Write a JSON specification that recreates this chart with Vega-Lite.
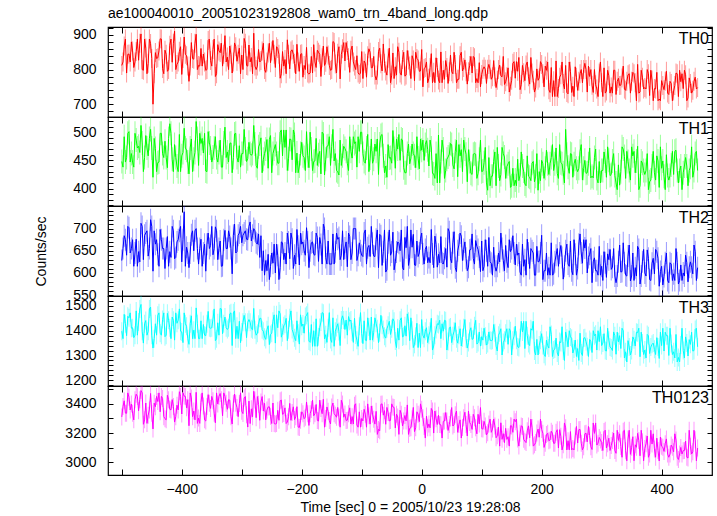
{
"$schema": "https://vega.github.io/schema/vega-lite/v6.json",
"padding": {"left": 33, "top": 5, "right": 5, "bottom": 0},
"background": "white",
"bounds": "flush",
"spacing": 0,
"config": {
 "font": "Liberation Sans",
 "view": {"stroke": "black", "strokeWidth": 1.2},
 "axis": {"labelFont": "Liberation Sans", "titleFont": "Liberation Sans", "labelFontSize": 14, "titleFontSize": 14, "labelColor": "black", "titleColor": "black", "titleFontWeight": "normal", "grid": false, "domain": false, "tickColor": "black", "tickSize": -5, "labelPadding": 17, "format": "d"}
},
"data": {"values": [
{"t":-500,"a":812,"b":448,"c":628,"d":1398,"e":3310},
{"t":-496,"a":868,"b":492,"c":684,"d":1466,"e":3420},
{"t":-492,"a":790,"b":455,"c":640,"d":1380,"e":3335},
{"t":-488,"a":845,"b":501,"c":702,"d":1452,"e":3445},
{"t":-484,"a":880,"b":462,"c":655,"d":1410,"e":3398},
{"t":-480,"a":806,"b":438,"c":615,"d":1372,"e":3290},
{"t":-476,"a":852,"b":486,"c":676,"d":1480,"e":3465},
{"t":-472,"a":827,"b":475,"c":648,"d":1435,"e":3352},
{"t":-468,"a":903,"b":512,"c":712,"d":1506,"e":3490},
{"t":-464,"a":798,"b":430,"c":630,"d":1350,"e":3260},
{"t":-460,"a":862,"b":494,"c":690,"d":1441,"e":3405},
{"t":-456,"a":818,"b":458,"c":638,"d":1398,"e":3322},
{"t":-452,"a":875,"b":505,"c":720,"d":1495,"e":3470},
{"t":-448,"a":700,"b":420,"c":604,"d":1330,"e":3228},
{"t":-444,"a":849,"b":471,"c":665,"d":1428,"e":3380},
{"t":-440,"a":834,"b":446,"c":642,"d":1462,"e":3415},
{"t":-436,"a":889,"b":498,"c":698,"d":1390,"e":3345},
{"t":-432,"a":803,"b":462,"c":655,"d":1445,"e":3436},
{"t":-428,"a":856,"b":484,"c":610,"d":1376,"e":3298},
{"t":-424,"a":795,"b":437,"c":682,"d":1470,"e":3458},
{"t":-420,"a":870,"b":515,"c":648,"d":1412,"e":3362},
{"t":-416,"a":821,"b":452,"c":705,"d":1455,"e":3428},
{"t":-412,"a":911,"b":478,"c":632,"d":1362,"e":3275},
{"t":-408,"a":815,"b":440,"c":670,"d":1430,"e":3390},
{"t":-404,"a":853,"b":496,"c":694,"d":1488,"e":3482},
{"t":-400,"a":786,"b":458,"c":625,"d":1395,"e":3330},
{"t":-396,"a":894,"b":507,"c":738,"d":1472,"e":3452},
{"t":-392,"a":840,"b":468,"c":658,"d":1418,"e":3372},
{"t":-388,"a":766,"b":426,"c":612,"d":1345,"e":3250},
{"t":-384,"a":878,"b":488,"c":686,"d":1460,"e":3440},
{"t":-380,"a":830,"b":452,"c":650,"d":1402,"e":3350},
{"t":-376,"a":902,"b":519,"c":700,"d":1492,"e":3478},
{"t":-372,"a":812,"b":441,"c":620,"d":1368,"e":3302},
{"t":-368,"a":861,"b":480,"c":676,"d":1440,"e":3410},
{"t":-364,"a":845,"b":463,"c":645,"d":1425,"e":3385},
{"t":-360,"a":798,"b":431,"c":604,"d":1380,"e":3282},
{"t":-356,"a":884,"b":501,"c":690,"d":1478,"e":3462},
{"t":-352,"a":826,"b":472,"c":662,"d":1410,"e":3368},
{"t":-348,"a":858,"b":456,"c":641,"d":1446,"e":3420},
{"t":-344,"a":780,"b":492,"c":704,"d":1360,"e":3270},
{"t":-340,"a":872,"b":447,"c":630,"d":1432,"e":3398},
{"t":-336,"a":849,"b":486,"c":672,"d":1490,"e":3470},
{"t":-332,"a":810,"b":438,"c":616,"d":1388,"e":3318},
{"t":-328,"a":898,"b":509,"c":696,"d":1455,"e":3450},
{"t":-324,"a":836,"b":465,"c":655,"d":1405,"e":3362},
{"t":-320,"a":868,"b":480,"c":682,"d":1468,"e":3425},
{"t":-316,"a":790,"b":428,"c":598,"d":1340,"e":3262},
{"t":-312,"a":877,"b":497,"c":710,"d":1480,"e":3466},
{"t":-308,"a":824,"b":455,"c":648,"d":1418,"e":3375},
{"t":-304,"a":862,"b":476,"c":690,"d":1438,"e":3402},
{"t":-300,"a":842,"b":462,"c":668,"d":1395,"e":3348},
{"t":-296,"a":890,"b":505,"c":690,"d":1462,"e":3440},
{"t":-292,"a":812,"b":448,"c":676,"d":1372,"e":3325},
{"t":-288,"a":871,"b":482,"c":705,"d":1445,"e":3418},
{"t":-284,"a":835,"b":459,"c":672,"d":1408,"e":3365},
{"t":-280,"a":905,"b":512,"c":700,"d":1490,"e":3485},
{"t":-276,"a":800,"b":441,"c":668,"d":1382,"e":3305},
{"t":-272,"a":858,"b":474,"c":688,"d":1426,"e":3396},
{"t":-268,"a":826,"b":490,"c":684,"d":1450,"e":3412},
{"t":-264,"a":876,"b":452,"c":650,"d":1398,"e":3350},
{"t":-260,"a":792,"b":470,"c":628,"d":1365,"e":3290},
{"t":-256,"a":848,"b":436,"c":642,"d":1420,"e":3378},
{"t":-252,"a":820,"b":494,"c":615,"d":1385,"e":3315},
{"t":-248,"a":884,"b":462,"c":622,"d":1438,"e":3405},
{"t":-244,"a":806,"b":478,"c":600,"d":1350,"e":3262},
{"t":-240,"a":861,"b":445,"c":640,"d":1412,"e":3355},
{"t":-236,"a":775,"b":500,"c":612,"d":1468,"e":3420},
{"t":-232,"a":852,"b":458,"c":668,"d":1392,"e":3328},
{"t":-228,"a":829,"b":473,"c":645,"d":1426,"e":3372},
{"t":-224,"a":886,"b":432,"c":690,"d":1360,"e":3275},
{"t":-220,"a":802,"b":488,"c":632,"d":1452,"e":3402},
{"t":-216,"a":857,"b":451,"c":676,"d":1405,"e":3340},
{"t":-212,"a":818,"b":496,"c":640,"d":1372,"e":3292},
{"t":-208,"a":873,"b":463,"c":698,"d":1440,"e":3380},
{"t":-204,"a":795,"b":440,"c":618,"d":1346,"e":3238},
{"t":-200,"a":846,"b":482,"c":665,"d":1418,"e":3345},
{"t":-196,"a":812,"b":455,"c":650,"d":1390,"e":3298},
{"t":-192,"a":864,"b":501,"c":702,"d":1462,"e":3412},
{"t":-188,"a":787,"b":437,"c":612,"d":1358,"e":3252},
{"t":-184,"a":838,"b":470,"c":668,"d":1425,"e":3360},
{"t":-180,"a":872,"b":448,"c":642,"d":1400,"e":3318},
{"t":-176,"a":806,"b":489,"c":690,"d":1448,"e":3395},
{"t":-172,"a":850,"b":460,"c":626,"d":1376,"e":3282},
{"t":-168,"a":780,"b":426,"c":664,"d":1435,"e":3368},
{"t":-164,"a":868,"b":497,"c":710,"d":1470,"e":3430},
{"t":-160,"a":821,"b":452,"c":635,"d":1384,"e":3300},
{"t":-156,"a":842,"b":476,"c":672,"d":1412,"e":3348},
{"t":-152,"a":798,"b":441,"c":620,"d":1365,"e":3262},
{"t":-148,"a":881,"b":505,"c":688,"d":1452,"e":3405},
{"t":-144,"a":816,"b":462,"c":648,"d":1398,"e":3322},
{"t":-140,"a":847,"b":430,"c":676,"d":1428,"e":3375},
{"t":-136,"a":773,"b":486,"c":630,"d":1340,"e":3240},
{"t":-132,"a":860,"b":458,"c":695,"d":1460,"e":3398},
{"t":-128,"a":825,"b":471,"c":656,"d":1405,"e":3330},
{"t":-124,"a":855,"b":445,"c":614,"d":1382,"e":3288},
{"t":-120,"a":792,"b":492,"c":682,"d":1438,"e":3372},
{"t":-116,"a":868,"b":454,"c":645,"d":1395,"e":3312},
{"t":-112,"a":810,"b":480,"c":700,"d":1450,"e":3390},
{"t":-108,"a":840,"b":438,"c":628,"d":1362,"e":3255},
{"t":-104,"a":786,"b":466,"c":668,"d":1418,"e":3345},
{"t":-100,"a":852,"b":500,"c":640,"d":1388,"e":3300},
{"t":-96,"a":825,"b":448,"c":690,"d":1440,"e":3362},
{"t":-92,"a":778,"b":472,"c":620,"d":1360,"e":3240},
{"t":-88,"a":860,"b":430,"c":662,"d":1415,"e":3318},
{"t":-84,"a":805,"b":488,"c":705,"d":1455,"e":3385},
{"t":-80,"a":838,"b":452,"c":638,"d":1392,"e":3295},
{"t":-76,"a":770,"b":466,"c":676,"d":1430,"e":3348},
{"t":-72,"a":852,"b":425,"c":612,"d":1352,"e":3225},
{"t":-68,"a":817,"b":494,"c":684,"d":1462,"e":3396},
{"t":-64,"a":874,"b":458,"c":648,"d":1405,"e":3322},
{"t":-60,"a":796,"b":440,"c":602,"d":1370,"e":3260},
{"t":-56,"a":833,"b":478,"c":668,"d":1422,"e":3340},
{"t":-52,"a":762,"b":455,"c":640,"d":1385,"e":3286},
{"t":-48,"a":848,"b":503,"c":692,"d":1448,"e":3378},
{"t":-44,"a":808,"b":436,"c":625,"d":1358,"e":3235},
{"t":-40,"a":866,"b":470,"c":670,"d":1410,"e":3310},
{"t":-36,"a":790,"b":450,"c":650,"d":1442,"e":3355},
{"t":-32,"a":829,"b":486,"c":612,"d":1375,"e":3248},
{"t":-28,"a":781,"b":428,"c":680,"d":1420,"e":3320},
{"t":-24,"a":855,"b":462,"c":705,"d":1468,"e":3392},
{"t":-20,"a":810,"b":444,"c":634,"d":1360,"e":3232},
{"t":-16,"a":840,"b":479,"c":658,"d":1402,"e":3298},
{"t":-12,"a":768,"b":458,"c":618,"d":1345,"e":3210},
{"t":-8,"a":832,"b":492,"c":672,"d":1430,"e":3345},
{"t":-4,"a":795,"b":435,"c":645,"d":1390,"e":3278},
{"t":0,"a":858,"b":468,"c":690,"d":1445,"e":3362},
{"t":4,"a":803,"b":450,"c":620,"d":1370,"e":3245},
{"t":8,"a":822,"b":485,"c":660,"d":1412,"e":3316},
{"t":12,"a":775,"b":440,"c":635,"d":1382,"e":3262},
{"t":16,"a":846,"b":472,"c":698,"d":1450,"e":3368},
{"t":20,"a":792,"b":426,"c":612,"d":1338,"e":3200},
{"t":24,"a":834,"b":462,"c":664,"d":1405,"e":3298},
{"t":28,"a":770,"b":495,"c":642,"d":1425,"e":3322},
{"t":32,"a":851,"b":448,"c":682,"d":1368,"e":3256},
{"t":36,"a":798,"b":470,"c":620,"d":1398,"e":3280},
{"t":40,"a":826,"b":432,"c":655,"d":1440,"e":3340},
{"t":44,"a":760,"b":456,"c":700,"d":1356,"e":3218},
{"t":48,"a":842,"b":480,"c":632,"d":1415,"e":3302},
{"t":52,"a":788,"b":442,"c":668,"d":1380,"e":3248},
{"t":56,"a":815,"b":466,"c":612,"d":1432,"e":3325},
{"t":60,"a":772,"b":421,"c":650,"d":1350,"e":3205},
{"t":64,"a":840,"b":458,"c":690,"d":1408,"e":3290},
{"t":68,"a":796,"b":430,"c":628,"d":1372,"e":3238},
{"t":72,"a":828,"b":470,"c":670,"d":1445,"e":3342},
{"t":76,"a":758,"b":412,"c":605,"d":1330,"e":3180},
{"t":80,"a":812,"b":448,"c":652,"d":1398,"e":3272},
{"t":84,"a":790,"b":425,"c":688,"d":1365,"e":3225},
{"t":88,"a":834,"b":462,"c":620,"d":1420,"e":3305},
{"t":92,"a":774,"b":418,"c":660,"d":1346,"e":3195},
{"t":96,"a":820,"b":452,"c":636,"d":1395,"e":3262},
{"t":100,"a":786,"b":430,"c":672,"d":1376,"e":3230},
{"t":104,"a":808,"b":446,"c":615,"d":1410,"e":3280},
{"t":108,"a":760,"b":410,"c":650,"d":1342,"e":3188},
{"t":112,"a":815,"b":455,"c":680,"d":1395,"e":3262},
{"t":116,"a":772,"b":422,"c":622,"d":1360,"e":3205},
{"t":120,"a":826,"b":448,"c":658,"d":1425,"e":3296},
{"t":124,"a":748,"b":405,"c":604,"d":1338,"e":3168},
{"t":128,"a":800,"b":440,"c":645,"d":1382,"e":3240},
{"t":132,"a":782,"b":425,"c":690,"d":1408,"e":3270},
{"t":136,"a":838,"b":462,"c":628,"d":1352,"e":3196},
{"t":140,"a":765,"b":418,"c":662,"d":1390,"e":3232},
{"t":144,"a":805,"b":444,"c":612,"d":1345,"e":3175},
{"t":148,"a":752,"b":402,"c":648,"d":1400,"e":3250},
{"t":152,"a":818,"b":436,"c":684,"d":1362,"e":3205},
{"t":156,"a":775,"b":415,"c":618,"d":1418,"e":3278},
{"t":160,"a":795,"b":452,"c":640,"d":1335,"e":3160},
{"t":164,"a":742,"b":424,"c":602,"d":1372,"e":3198},
{"t":168,"a":812,"b":440,"c":665,"d":1395,"e":3245},
{"t":172,"a":768,"b":408,"c":630,"d":1328,"e":3145},
{"t":176,"a":822,"b":458,"c":676,"d":1380,"e":3215},
{"t":180,"a":758,"b":420,"c":610,"d":1340,"e":3168},
{"t":184,"a":790,"b":445,"c":650,"d":1402,"e":3238},
{"t":188,"a":735,"b":412,"c":595,"d":1318,"e":3120},
{"t":192,"a":802,"b":462,"c":660,"d":1365,"e":3200},
{"t":196,"a":776,"b":430,"c":626,"d":1342,"e":3172},
{"t":200,"a":815,"b":450,"c":685,"d":1388,"e":3225},
{"t":204,"a":750,"b":418,"c":605,"d":1305,"e":3102},
{"t":208,"a":798,"b":468,"c":645,"d":1362,"e":3190},
{"t":212,"a":742,"b":425,"c":612,"d":1330,"e":3148},
{"t":216,"a":806,"b":455,"c":668,"d":1385,"e":3212},
{"t":220,"a":768,"b":432,"c":598,"d":1322,"e":3130},
{"t":224,"a":825,"b":472,"c":640,"d":1370,"e":3205},
{"t":228,"a":745,"b":418,"c":615,"d":1298,"e":3098},
{"t":232,"a":785,"b":446,"c":662,"d":1352,"e":3178},
{"t":236,"a":760,"b":428,"c":586,"d":1318,"e":3120},
{"t":240,"a":812,"b":505,"c":650,"d":1395,"e":3236},
{"t":244,"a":730,"b":438,"c":620,"d":1335,"e":3148},
{"t":248,"a":795,"b":462,"c":672,"d":1375,"e":3210},
{"t":252,"a":752,"b":420,"c":596,"d":1310,"e":3095},
{"t":256,"a":808,"b":452,"c":642,"d":1362,"e":3180},
{"t":260,"a":740,"b":430,"c":610,"d":1328,"e":3132},
{"t":264,"a":788,"b":466,"c":688,"d":1390,"e":3225},
{"t":268,"a":762,"b":415,"c":622,"d":1300,"e":3085},
{"t":272,"a":818,"b":450,"c":656,"d":1372,"e":3195},
{"t":276,"a":735,"b":428,"c":600,"d":1335,"e":3140},
{"t":280,"a":780,"b":472,"c":642,"d":1365,"e":3182},
{"t":284,"a":755,"b":422,"c":578,"d":1312,"e":3088},
{"t":288,"a":800,"b":455,"c":634,"d":1380,"e":3198},
{"t":292,"a":744,"b":418,"c":605,"d":1322,"e":3118},
{"t":296,"a":790,"b":448,"c":660,"d":1356,"e":3170},
{"t":300,"a":762,"b":432,"c":615,"d":1340,"e":3136},
{"t":304,"a":805,"b":465,"c":648,"d":1388,"e":3210},
{"t":308,"a":738,"b":420,"c":590,"d":1318,"e":3098},
{"t":312,"a":782,"b":450,"c":630,"d":1362,"e":3165},
{"t":316,"a":750,"b":425,"c":608,"d":1330,"e":3115},
{"t":320,"a":798,"b":462,"c":655,"d":1395,"e":3200},
{"t":324,"a":728,"b":410,"c":578,"d":1305,"e":3062},
{"t":328,"a":775,"b":442,"c":625,"d":1355,"e":3150},
{"t":332,"a":755,"b":430,"c":602,"d":1328,"e":3108},
{"t":336,"a":810,"b":470,"c":668,"d":1400,"e":3212},
{"t":340,"a":740,"b":418,"c":595,"d":1315,"e":3080},
{"t":344,"a":785,"b":448,"c":638,"d":1360,"e":3160},
{"t":348,"a":732,"b":415,"c":582,"d":1302,"e":3055},
{"t":352,"a":792,"b":458,"c":645,"d":1375,"e":3175},
{"t":356,"a":762,"b":428,"c":612,"d":1338,"e":3120},
{"t":360,"a":815,"b":475,"c":660,"d":1392,"e":3198},
{"t":364,"a":735,"b":405,"c":575,"d":1295,"e":3045},
{"t":368,"a":778,"b":445,"c":625,"d":1350,"e":3140},
{"t":372,"a":748,"b":425,"c":600,"d":1322,"e":3095},
{"t":376,"a":800,"b":462,"c":652,"d":1385,"e":3180},
{"t":380,"a":725,"b":412,"c":585,"d":1308,"e":3058},
{"t":384,"a":770,"b":440,"c":622,"d":1345,"e":3125},
{"t":388,"a":745,"b":428,"c":598,"d":1325,"e":3092},
{"t":392,"a":792,"b":458,"c":648,"d":1372,"e":3165},
{"t":396,"a":715,"b":402,"c":570,"d":1288,"e":3010},
{"t":400,"a":768,"b":436,"c":615,"d":1340,"e":3110},
{"t":404,"a":742,"b":422,"c":592,"d":1318,"e":3075},
{"t":408,"a":795,"b":460,"c":645,"d":1380,"e":3160},
{"t":412,"a":728,"b":415,"c":578,"d":1300,"e":3035},
{"t":416,"a":760,"b":442,"c":620,"d":1348,"e":3118},
{"t":420,"a":738,"b":425,"c":598,"d":1315,"e":3072},
{"t":424,"a":790,"b":468,"c":655,"d":1385,"e":3152},
{"t":428,"a":722,"b":410,"c":575,"d":1292,"e":3020},
{"t":432,"a":765,"b":440,"c":618,"d":1342,"e":3102},
{"t":436,"a":745,"b":428,"c":600,"d":1320,"e":3080},
{"t":440,"a":785,"b":455,"c":640,"d":1375,"e":3145},
{"t":444,"a":718,"b":405,"c":580,"d":1298,"e":3030},
{"t":448,"a":760,"b":438,"c":625,"d":1345,"e":3110},
{"t":452,"a":740,"b":420,"c":598,"d":1318,"e":3072},
{"t":456,"a":778,"b":462,"c":648,"d":1405,"e":3155},
{"t":460,"a":748,"b":432,"c":612,"d":1335,"e":3098},
{"t":-498,"a":822,"b":438,"c":655,"d":1368,"e":3382},
{"t":-494,"a":888,"b":447,"c":675,"d":1428,"e":3336},
{"t":-490,"a":844,"b":498,"c":705,"d":1458,"e":3474},
{"t":-486,"a":822,"b":447,"c":645,"d":1472,"e":3358},
{"t":-482,"a":854,"b":447,"c":675,"d":1412,"e":3336},
{"t":-478,"a":822,"b":498,"c":645,"d":1382,"e":3428},
{"t":-474,"a":888,"b":472,"c":615,"d":1382,"e":3450},
{"t":-470,"a":876,"b":464,"c":625,"d":1488,"e":3428},
{"t":-466,"a":800,"b":481,"c":705,"d":1398,"e":3474},
{"t":-462,"a":888,"b":455,"c":685,"d":1428,"e":3290},
{"t":-458,"a":788,"b":472,"c":695,"d":1382,"e":3266},
{"t":-454,"a":888,"b":489,"c":655,"d":1488,"e":3358},
{"t":-450,"a":832,"b":472,"c":705,"d":1382,"e":3336},
{"t":-446,"a":788,"b":489,"c":695,"d":1368,"e":3404},
{"t":-442,"a":832,"b":430,"c":675,"d":1382,"e":3450},
{"t":-438,"a":854,"b":447,"c":615,"d":1472,"e":3474},
{"t":-434,"a":888,"b":498,"c":675,"d":1382,"e":3450},
{"t":-430,"a":788,"b":455,"c":655,"d":1472,"e":3312},
{"t":-426,"a":844,"b":455,"c":655,"d":1382,"e":3290},
{"t":-422,"a":800,"b":489,"c":615,"d":1442,"e":3428},
{"t":-418,"a":888,"b":498,"c":635,"d":1368,"e":3358},
{"t":-414,"a":876,"b":430,"c":695,"d":1442,"e":3382},
{"t":-410,"a":800,"b":455,"c":635,"d":1472,"e":3312},
{"t":-406,"a":822,"b":430,"c":675,"d":1442,"e":3358},
{"t":-402,"a":866,"b":430,"c":705,"d":1398,"e":3450},
{"t":-398,"a":832,"b":464,"c":675,"d":1352,"e":3474},
{"t":-394,"a":844,"b":472,"c":615,"d":1428,"e":3450},
{"t":-390,"a":810,"b":447,"c":645,"d":1368,"e":3428},
{"t":-386,"a":810,"b":472,"c":645,"d":1428,"e":3474},
{"t":-382,"a":832,"b":430,"c":695,"d":1368,"e":3312},
{"t":-378,"a":876,"b":464,"c":695,"d":1368,"e":3290},
{"t":-374,"a":800,"b":489,"c":655,"d":1428,"e":3266},
{"t":-370,"a":810,"b":498,"c":655,"d":1368,"e":3266},
{"t":-366,"a":810,"b":489,"c":615,"d":1368,"e":3474},
{"t":-362,"a":822,"b":498,"c":665,"d":1382,"e":3290},
{"t":-358,"a":800,"b":430,"c":665,"d":1428,"e":3382},
{"t":-354,"a":888,"b":481,"c":655,"d":1412,"e":3404},
{"t":-350,"a":810,"b":447,"c":705,"d":1412,"e":3450},
{"t":-346,"a":888,"b":472,"c":655,"d":1488,"e":3336},
{"t":-342,"a":788,"b":455,"c":695,"d":1368,"e":3474},
{"t":-338,"a":854,"b":464,"c":655,"d":1382,"e":3450},
{"t":-334,"a":876,"b":438,"c":615,"d":1488,"e":3428},
{"t":-330,"a":844,"b":481,"c":675,"d":1428,"e":3474},
{"t":-326,"a":822,"b":455,"c":655,"d":1412,"e":3404},
{"t":-322,"a":800,"b":447,"c":695,"d":1412,"e":3428},
{"t":-318,"a":844,"b":481,"c":655,"d":1472,"e":3312},
{"t":-314,"a":822,"b":455,"c":685,"d":1472,"e":3404},
{"t":-310,"a":866,"b":498,"c":645,"d":1368,"e":3404},
{"t":-306,"a":844,"b":447,"c":685,"d":1368,"e":3312},
{"t":-302,"a":788,"b":438,"c":705,"d":1352,"e":3474},
{"t":-298,"a":800,"b":462,"c":685,"d":1434,"e":3333},
{"t":-294,"a":876,"b":470,"c":695,"d":1434,"e":3449},
{"t":-290,"a":810,"b":453,"c":675,"d":1434,"e":3241},
{"t":-286,"a":822,"b":462,"c":715,"d":1434,"e":3265},
{"t":-282,"a":788,"b":462,"c":685,"d":1404,"e":3311},
{"t":-278,"a":810,"b":479,"c":695,"d":1404,"e":3425},
{"t":-274,"a":810,"b":436,"c":665,"d":1390,"e":3449},
{"t":-270,"a":822,"b":479,"c":635,"d":1450,"e":3287},
{"t":-266,"a":854,"b":428,"c":605,"d":1404,"e":3449},
{"t":-262,"a":800,"b":462,"c":595,"d":1374,"e":3403},
{"t":-258,"a":822,"b":487,"c":605,"d":1404,"e":3357},
{"t":-254,"a":876,"b":487,"c":585,"d":1344,"e":3379},
{"t":-250,"a":854,"b":428,"c":645,"d":1390,"e":3265},
{"t":-246,"a":844,"b":470,"c":665,"d":1464,"e":3265},
{"t":-242,"a":866,"b":462,"c":665,"d":1464,"e":3265},
{"t":-238,"a":844,"b":445,"c":585,"d":1480,"e":3287},
{"t":-234,"a":788,"b":504,"c":670,"d":1374,"e":3425},
{"t":-230,"a":810,"b":504,"c":630,"d":1420,"e":3333},
{"t":-226,"a":788,"b":504,"c":620,"d":1450,"e":3265},
{"t":-222,"a":844,"b":453,"c":670,"d":1404,"e":3311},
{"t":-218,"a":854,"b":487,"c":690,"d":1480,"e":3287},
{"t":-214,"a":844,"b":504,"c":610,"d":1390,"e":3379},
{"t":-210,"a":788,"b":428,"c":620,"d":1360,"e":3311},
{"t":-206,"a":822,"b":428,"c":660,"d":1390,"e":3241},
{"t":-202,"a":844,"b":462,"c":690,"d":1464,"e":3287},
{"t":-198,"a":778,"b":458,"c":670,"d":1427,"e":3332},
{"t":-194,"a":800,"b":432,"c":640,"d":1457,"e":3308},
{"t":-190,"a":790,"b":458,"c":670,"d":1473,"e":3332},
{"t":-186,"a":790,"b":500,"c":650,"d":1353,"e":3332},
{"t":-182,"a":790,"b":432,"c":670,"d":1337,"e":3424},
{"t":-178,"a":822,"b":449,"c":640,"d":1337,"e":3332},
{"t":-174,"a":856,"b":441,"c":680,"d":1337,"e":3286},
{"t":-170,"a":844,"b":466,"c":680,"d":1413,"e":3424},
{"t":-166,"a":834,"b":500,"c":620,"d":1473,"e":3332},
{"t":-162,"a":812,"b":424,"c":700,"d":1367,"e":3240},
{"t":-158,"a":866,"b":475,"c":620,"d":1353,"e":3378},
{"t":-154,"a":812,"b":492,"c":620,"d":1473,"e":3286},
{"t":-150,"a":800,"b":475,"c":620,"d":1353,"e":3378},
{"t":-146,"a":878,"b":449,"c":620,"d":1337,"e":3332},
{"t":-142,"a":790,"b":432,"c":690,"d":1413,"e":3308},
{"t":-138,"a":866,"b":424,"c":680,"d":1397,"e":3308},
{"t":-134,"a":844,"b":441,"c":640,"d":1443,"e":3424},
{"t":-130,"a":878,"b":475,"c":630,"d":1443,"e":3308},
{"t":-126,"a":878,"b":466,"c":670,"d":1443,"e":3286},
{"t":-122,"a":834,"b":432,"c":690,"d":1457,"e":3332},
{"t":-118,"a":856,"b":466,"c":630,"d":1443,"e":3262},
{"t":-114,"a":822,"b":492,"c":700,"d":1353,"e":3262},
{"t":-110,"a":800,"b":483,"c":700,"d":1383,"e":3400},
{"t":-106,"a":790,"b":492,"c":640,"d":1337,"e":3240},
{"t":-102,"a":790,"b":500,"c":650,"d":1473,"e":3240},
{"t":-98,"a":774,"b":462,"c":637,"d":1348,"e":3283},
{"t":-94,"a":818,"b":445,"c":697,"d":1362,"e":3329},
{"t":-90,"a":840,"b":496,"c":657,"d":1452,"e":3399},
{"t":-86,"a":850,"b":454,"c":637,"d":1362,"e":3261},
{"t":-82,"a":806,"b":445,"c":667,"d":1362,"e":3329},
{"t":-78,"a":784,"b":479,"c":637,"d":1452,"e":3261},
{"t":-74,"a":784,"b":488,"c":697,"d":1408,"e":3191},
{"t":-70,"a":862,"b":479,"c":687,"d":1392,"e":3215},
{"t":-66,"a":796,"b":496,"c":617,"d":1422,"e":3399},
{"t":-62,"a":818,"b":428,"c":697,"d":1378,"e":3353},
{"t":-58,"a":784,"b":420,"c":607,"d":1408,"e":3375},
{"t":-54,"a":862,"b":454,"c":697,"d":1438,"e":3283},
{"t":-50,"a":784,"b":445,"c":647,"d":1408,"e":3399},
{"t":-46,"a":774,"b":471,"c":607,"d":1438,"e":3375},
{"t":-42,"a":784,"b":488,"c":647,"d":1332,"e":3329},
{"t":-38,"a":850,"b":496,"c":667,"d":1362,"e":3191},
{"t":-34,"a":784,"b":488,"c":697,"d":1452,"e":3329},
{"t":-30,"a":850,"b":437,"c":607,"d":1378,"e":3283},
{"t":-26,"a":784,"b":428,"c":657,"d":1378,"e":3283},
{"t":-22,"a":828,"b":479,"c":617,"d":1438,"e":3191},
{"t":-18,"a":774,"b":454,"c":697,"d":1452,"e":3237},
{"t":-14,"a":828,"b":462,"c":687,"d":1332,"e":3375},
{"t":-10,"a":850,"b":437,"c":617,"d":1378,"e":3237},
{"t":-6,"a":828,"b":454,"c":637,"d":1332,"e":3329},
{"t":-2,"a":796,"b":488,"c":677,"d":1332,"e":3399},
{"t":2,"a":750,"b":486,"c":643,"d":1382,"e":3304},
{"t":6,"a":806,"b":478,"c":653,"d":1398,"e":3166},
{"t":10,"a":762,"b":469,"c":623,"d":1352,"e":3236},
{"t":14,"a":806,"b":486,"c":623,"d":1398,"e":3236},
{"t":18,"a":762,"b":427,"c":643,"d":1322,"e":3350},
{"t":22,"a":762,"b":418,"c":683,"d":1382,"e":3350},
{"t":26,"a":806,"b":410,"c":613,"d":1428,"e":3258},
{"t":30,"a":762,"b":410,"c":623,"d":1442,"e":3258},
{"t":34,"a":762,"b":486,"c":623,"d":1428,"e":3166},
{"t":38,"a":772,"b":418,"c":633,"d":1442,"e":3282},
{"t":42,"a":806,"b":452,"c":613,"d":1322,"e":3282},
{"t":46,"a":794,"b":461,"c":693,"d":1412,"e":3258},
{"t":50,"a":794,"b":478,"c":623,"d":1352,"e":3374},
{"t":54,"a":850,"b":435,"c":693,"d":1398,"e":3258},
{"t":58,"a":762,"b":486,"c":603,"d":1368,"e":3350},
{"t":62,"a":772,"b":478,"c":663,"d":1382,"e":3258},
{"t":66,"a":850,"b":469,"c":683,"d":1338,"e":3166},
{"t":70,"a":806,"b":486,"c":653,"d":1412,"e":3304},
{"t":74,"a":794,"b":461,"c":633,"d":1368,"e":3258},
{"t":78,"a":794,"b":469,"c":613,"d":1352,"e":3350},
{"t":82,"a":838,"b":427,"c":653,"d":1412,"e":3258},
{"t":86,"a":838,"b":461,"c":633,"d":1368,"e":3328},
{"t":90,"a":762,"b":461,"c":673,"d":1442,"e":3236},
{"t":94,"a":762,"b":427,"c":653,"d":1352,"e":3328},
{"t":98,"a":750,"b":486,"c":603,"d":1338,"e":3374},
{"t":102,"a":801,"b":431,"c":605,"d":1362,"e":3227},
{"t":106,"a":801,"b":473,"c":675,"d":1378,"e":3249},
{"t":110,"a":801,"b":397,"c":615,"d":1348,"e":3203},
{"t":114,"a":801,"b":405,"c":625,"d":1362,"e":3295},
{"t":118,"a":779,"b":422,"c":595,"d":1362,"e":3227},
{"t":122,"a":779,"b":465,"c":615,"d":1392,"e":3249},
{"t":126,"a":769,"b":473,"c":615,"d":1318,"e":3181},
{"t":130,"a":813,"b":414,"c":625,"d":1392,"e":3111},
{"t":134,"a":779,"b":473,"c":655,"d":1302,"e":3157},
{"t":138,"a":757,"b":456,"c":605,"d":1362,"e":3135},
{"t":142,"a":779,"b":439,"c":625,"d":1408,"e":3157},
{"t":146,"a":735,"b":448,"c":675,"d":1408,"e":3111},
{"t":150,"a":769,"b":405,"c":655,"d":1302,"e":3249},
{"t":154,"a":823,"b":405,"c":645,"d":1378,"e":3295},
{"t":158,"a":823,"b":405,"c":665,"d":1362,"e":3295},
{"t":162,"a":835,"b":414,"c":645,"d":1332,"e":3111},
{"t":166,"a":757,"b":465,"c":595,"d":1438,"e":3249},
{"t":170,"a":791,"b":431,"c":615,"d":1438,"e":3157},
{"t":174,"a":813,"b":405,"c":595,"d":1438,"e":3135},
{"t":178,"a":779,"b":422,"c":645,"d":1348,"e":3249},
{"t":182,"a":835,"b":414,"c":655,"d":1408,"e":3295},
{"t":186,"a":769,"b":448,"c":645,"d":1438,"e":3111},
{"t":190,"a":747,"b":422,"c":595,"d":1302,"e":3135},
{"t":194,"a":769,"b":397,"c":625,"d":1302,"e":3227},
{"t":198,"a":823,"b":414,"c":645,"d":1362,"e":3295},
{"t":202,"a":788,"b":444,"c":585,"d":1340,"e":3199},
{"t":206,"a":810,"b":436,"c":605,"d":1296,"e":3131},
{"t":210,"a":822,"b":444,"c":595,"d":1340,"e":3199},
{"t":214,"a":734,"b":444,"c":595,"d":1416,"e":3153},
{"t":218,"a":722,"b":478,"c":595,"d":1296,"e":3199},
{"t":222,"a":722,"b":444,"c":625,"d":1326,"e":3131},
{"t":226,"a":722,"b":427,"c":655,"d":1310,"e":3223},
{"t":230,"a":778,"b":478,"c":645,"d":1356,"e":3223},
{"t":234,"a":822,"b":444,"c":635,"d":1416,"e":3085},
{"t":238,"a":744,"b":410,"c":615,"d":1280,"e":3269},
{"t":242,"a":734,"b":461,"c":665,"d":1370,"e":3085},
{"t":246,"a":822,"b":427,"c":615,"d":1400,"e":3085},
{"t":250,"a":734,"b":461,"c":605,"d":1370,"e":3085},
{"t":254,"a":722,"b":444,"c":675,"d":1326,"e":3085},
{"t":258,"a":778,"b":436,"c":595,"d":1296,"e":3245},
{"t":262,"a":766,"b":436,"c":665,"d":1280,"e":3223},
{"t":266,"a":800,"b":478,"c":645,"d":1310,"e":3131},
{"t":270,"a":800,"b":436,"c":675,"d":1370,"e":3107},
{"t":274,"a":800,"b":427,"c":675,"d":1356,"e":3199},
{"t":278,"a":810,"b":444,"c":635,"d":1296,"e":3245},
{"t":282,"a":800,"b":419,"c":655,"d":1356,"e":3107},
{"t":286,"a":734,"b":419,"c":625,"d":1400,"e":3269},
{"t":290,"a":756,"b":470,"c":605,"d":1386,"e":3269},
{"t":294,"a":722,"b":410,"c":595,"d":1400,"e":3131},
{"t":298,"a":822,"b":410,"c":595,"d":1416,"e":3153},
{"t":302,"a":722,"b":432,"c":583,"d":1350,"e":3081},
{"t":306,"a":732,"b":449,"c":623,"d":1320,"e":3219},
{"t":310,"a":798,"b":474,"c":643,"d":1410,"e":3127},
{"t":314,"a":732,"b":423,"c":653,"d":1334,"e":3081},
{"t":318,"a":732,"b":449,"c":613,"d":1320,"e":3149},
{"t":322,"a":798,"b":423,"c":593,"d":1380,"e":3081},
{"t":326,"a":766,"b":398,"c":593,"d":1394,"e":3219},
{"t":330,"a":754,"b":406,"c":663,"d":1380,"e":3195},
{"t":334,"a":776,"b":474,"c":603,"d":1410,"e":3035},
{"t":338,"a":744,"b":457,"c":623,"d":1290,"e":3219},
{"t":342,"a":766,"b":466,"c":593,"d":1274,"e":3011},
{"t":346,"a":788,"b":432,"c":663,"d":1334,"e":3219},
{"t":350,"a":766,"b":474,"c":593,"d":1320,"e":3103},
{"t":354,"a":788,"b":466,"c":583,"d":1364,"e":3011},
{"t":358,"a":710,"b":449,"c":593,"d":1394,"e":3103},
{"t":362,"a":732,"b":398,"c":653,"d":1410,"e":3149},
{"t":366,"a":798,"b":449,"c":593,"d":1394,"e":3219},
{"t":370,"a":744,"b":432,"c":653,"d":1304,"e":3011},
{"t":374,"a":744,"b":432,"c":593,"d":1290,"e":3127},
{"t":378,"a":788,"b":398,"c":633,"d":1380,"e":3035},
{"t":382,"a":798,"b":415,"c":583,"d":1334,"e":3219},
{"t":386,"a":710,"b":466,"c":633,"d":1350,"e":3195},
{"t":390,"a":744,"b":415,"c":653,"d":1304,"e":3035},
{"t":394,"a":710,"b":449,"c":633,"d":1334,"e":3081},
{"t":398,"a":710,"b":474,"c":603,"d":1394,"e":3173},
{"t":402,"a":754,"b":449,"c":573,"d":1410,"e":3103},
{"t":406,"a":766,"b":398,"c":623,"d":1394,"e":3127},
{"t":410,"a":732,"b":423,"c":583,"d":1380,"e":3057},
{"t":414,"a":766,"b":423,"c":623,"d":1410,"e":3057},
{"t":418,"a":710,"b":466,"c":583,"d":1304,"e":3103},
{"t":422,"a":754,"b":466,"c":583,"d":1290,"e":3195},
{"t":426,"a":788,"b":432,"c":623,"d":1274,"e":3035},
{"t":430,"a":798,"b":432,"c":583,"d":1274,"e":3057},
{"t":434,"a":788,"b":398,"c":583,"d":1410,"e":3057},
{"t":438,"a":798,"b":440,"c":593,"d":1290,"e":3081},
{"t":442,"a":710,"b":440,"c":623,"d":1350,"e":3035},
{"t":446,"a":776,"b":432,"c":613,"d":1364,"e":3219},
{"t":450,"a":732,"b":474,"c":613,"d":1394,"e":3057},
{"t":454,"a":766,"b":432,"c":663,"d":1320,"e":3219},
{"t":458,"a":744,"b":466,"c":583,"d":1410,"e":3011}
]},
"vconcat": [
{
 "width": 604, "height": 90,
 "title": {"text": "ae100040010_20051023192808_wam0_trn_4band_long.qdp", "anchor": "start", "frame": "group", "fontSize": 14, "fontWeight": "normal", "font": "Liberation Sans", "color": "black", "offset": 6},
 "layer": [
  {"mark": {"type": "tick", "orient": "vertical", "color": "#ff0000", "opacity": 0.4, "size": 19, "thickness": 1, "clip": true},
   "encoding": {
    "x": {"field": "t", "type": "quantitative", "scale": {"domain": [-523, 484], "nice": false, "zero": false}, "axis": {"orient": "bottom", "values": [-500,-400,-300,-200,-100,0,100,200,300,400], "labels": false, "title": null, "tickSize": -6}},
    "y": {"field": "a", "type": "quantitative", "scale": {"domain": [663, 923], "nice": false, "zero": false}, "axis": {"orient": "left", "values": [680,700,720,740,760,780,800,820,840,860,880,900,920], "labelExpr": "datum.value % 100 === 0 ? datum.label : ''", "title": null}}}},
  {"mark": {"type": "line", "color": "#ff0000", "strokeWidth": 1, "clip": true},
   "encoding": {
    "x": {"field": "t", "type": "quantitative", "axis": {"orient": "top", "values": [-500,-400,-300,-200,-100,0,100,200,300,400], "labels": false, "title": null, "tickSize": -6}},
    "y": {"field": "a", "type": "quantitative", "axis": {"orient": "right", "values": [680,700,720,740,760,780,800,820,840,860,880,900,920], "labels": false, "title": null}}}},
  {"data": {"values": [{"label": "TH0"}]},
   "mark": {"type": "text", "align": "right", "baseline": "top", "fontSize": 16, "font": "Liberation Sans", "color": "black"},
   "encoding": {"x": {"datum": 479, "axis": null}, "y": {"datum": 911, "axis": null}, "text": {"field": "label"}}}
 ],
 "resolve": {"axis": {"x": "independent", "y": "independent"}}
},
{
 "width": 604, "height": 89,
 "layer": [
  {"mark": {"type": "tick", "orient": "vertical", "color": "#00ff00", "opacity": 0.4, "size": 24, "thickness": 1, "clip": true},
   "encoding": {
    "x": {"field": "t", "type": "quantitative", "scale": {"domain": [-523, 484], "nice": false, "zero": false}, "axis": {"orient": "bottom", "values": [-500,-400,-300,-200,-100,0,100,200,300,400], "labels": false, "title": null, "tickSize": -6}},
    "y": {"field": "b", "type": "quantitative", "scale": {"domain": [369, 527], "nice": false, "zero": false}, "axis": {"orient": "left", "values": [370,380,390,400,410,420,430,440,450,460,470,480,490,500,510,520], "labelExpr": "datum.value % 50 === 0 ? datum.label : ''", "title": null}}}},
  {"mark": {"type": "line", "color": "#00ff00", "strokeWidth": 1, "clip": true},
   "encoding": {
    "x": {"field": "t", "type": "quantitative", "axis": {"orient": "top", "values": [-500,-400,-300,-200,-100,0,100,200,300,400], "labels": false, "title": null, "tickSize": -6}},
    "y": {"field": "b", "type": "quantitative", "axis": {"orient": "right", "values": [370,380,390,400,410,420,430,440,450,460,470,480,490,500,510,520], "labels": false, "title": null}}}},
  {"data": {"values": [{"label": "TH1"}]},
   "mark": {"type": "text", "align": "right", "baseline": "top", "fontSize": 16, "font": "Liberation Sans", "color": "black"},
   "encoding": {"x": {"datum": 479, "axis": null}, "y": {"datum": 520, "axis": null}, "text": {"field": "label"}}}
 ],
 "resolve": {"axis": {"x": "independent", "y": "independent"}}
},
{
 "width": 604, "height": 90,
 "layer": [
  {"mark": {"type": "tick", "orient": "vertical", "color": "#0000ff", "opacity": 0.4, "size": 22, "thickness": 1, "clip": true},
   "encoding": {
    "x": {"field": "t", "type": "quantitative", "scale": {"domain": [-523, 484], "nice": false, "zero": false}, "axis": {"orient": "bottom", "values": [-500,-400,-300,-200,-100,0,100,200,300,400], "labels": false, "title": null, "tickSize": -6}},
    "y": {"field": "c", "type": "quantitative", "scale": {"domain": [548, 751], "nice": false, "zero": false}, "axis": {"orient": "left", "values": [550,560,570,580,590,600,610,620,630,640,650,660,670,680,690,700,710,720,730,740,750], "labelExpr": "datum.value % 50 === 0 && datum.value < 750 ? datum.label : ''", "title": "Counts/sec", "titleX": -60, "titleY": 45}}}},
  {"mark": {"type": "line", "color": "#0000ff", "strokeWidth": 1, "clip": true},
   "encoding": {
    "x": {"field": "t", "type": "quantitative", "axis": {"orient": "top", "values": [-500,-400,-300,-200,-100,0,100,200,300,400], "labels": false, "title": null, "tickSize": -6}},
    "y": {"field": "c", "type": "quantitative", "axis": {"orient": "right", "values": [550,560,570,580,590,600,610,620,630,640,650,660,670,680,690,700,710,720,730,740,750], "labels": false, "title": null}}}},
  {"data": {"values": [{"label": "TH2"}]},
   "mark": {"type": "text", "align": "right", "baseline": "top", "fontSize": 16, "font": "Liberation Sans", "color": "black"},
   "encoding": {"x": {"datum": 479, "axis": null}, "y": {"datum": 742, "axis": null}, "text": {"field": "label"}}}
 ],
 "resolve": {"axis": {"x": "independent", "y": "independent"}}
},
{
 "width": 604, "height": 90,
 "layer": [
  {"mark": {"type": "tick", "orient": "vertical", "color": "#00ffff", "opacity": 0.4, "size": 18, "thickness": 1, "clip": true},
   "encoding": {
    "x": {"field": "t", "type": "quantitative", "scale": {"domain": [-523, 484], "nice": false, "zero": false}, "axis": {"orient": "bottom", "values": [-500,-400,-300,-200,-100,0,100,200,300,400], "labels": false, "title": null, "tickSize": -6}},
    "y": {"field": "d", "type": "quantitative", "scale": {"domain": [1177, 1540], "nice": false, "zero": false}, "axis": {"orient": "left", "values": [1180,1200,1220,1240,1260,1280,1300,1320,1340,1360,1380,1400,1420,1440,1460,1480,1500,1520,1540], "labelExpr": "datum.value % 100 === 0 ? datum.label : ''", "title": null}}}},
  {"mark": {"type": "line", "color": "#00ffff", "strokeWidth": 1, "clip": true},
   "encoding": {
    "x": {"field": "t", "type": "quantitative", "axis": {"orient": "top", "values": [-500,-400,-300,-200,-100,0,100,200,300,400], "labels": false, "title": null, "tickSize": -6}},
    "y": {"field": "d", "type": "quantitative", "axis": {"orient": "right", "values": [1180,1200,1220,1240,1260,1280,1300,1320,1340,1360,1380,1400,1420,1440,1460,1480,1500,1520,1540], "labels": false, "title": null}}}},
  {"data": {"values": [{"label": "TH3"}]},
   "mark": {"type": "text", "align": "right", "baseline": "top", "fontSize": 16, "font": "Liberation Sans", "color": "black"},
   "encoding": {"x": {"datum": 479, "axis": null}, "y": {"datum": 1524, "axis": null}, "text": {"field": "label"}}}
 ],
 "resolve": {"axis": {"x": "independent", "y": "independent"}}
},
{
 "width": 604, "height": 89,
 "layer": [
  {"mark": {"type": "tick", "orient": "vertical", "color": "#ff00ff", "opacity": 0.4, "size": 17, "thickness": 1, "clip": true},
   "encoding": {
    "x": {"field": "t", "type": "quantitative", "scale": {"domain": [-523, 484], "nice": false, "zero": false}, "axis": {"orient": "bottom", "values": [-500,-400,-300,-200,-100,0,100,200,300,400], "labelExpr": "datum.value % 200 === 0 ? datum.label : ''", "title": "Time [sec] 0 = 2005/10/23 19:28:08", "tickSize": -6, "labelPadding": 13, "titlePadding": 4}},
    "y": {"field": "e", "type": "quantitative", "scale": {"domain": [2914, 3521], "nice": false, "zero": false}, "axis": {"orient": "left", "values": [3000,3100,3200,3300,3400,3500], "labelExpr": "datum.value % 200 === 0 ? datum.label : ''", "title": null}}}},
  {"mark": {"type": "line", "color": "#ff00ff", "strokeWidth": 1, "clip": true},
   "encoding": {
    "x": {"field": "t", "type": "quantitative", "axis": {"orient": "top", "values": [-500,-400,-300,-200,-100,0,100,200,300,400], "labels": false, "title": null, "tickSize": -6}},
    "y": {"field": "e", "type": "quantitative", "axis": {"orient": "right", "values": [3000,3100,3200,3300,3400,3500], "labels": false, "title": null}}}},
  {"data": {"values": [{"label": "TH0123"}]},
   "mark": {"type": "text", "align": "right", "baseline": "top", "fontSize": 16, "font": "Liberation Sans", "color": "black"},
   "encoding": {"x": {"datum": 479, "axis": null}, "y": {"datum": 3494, "axis": null}, "text": {"field": "label"}}}
 ],
 "resolve": {"axis": {"x": "independent", "y": "independent"}}
}
]
}
